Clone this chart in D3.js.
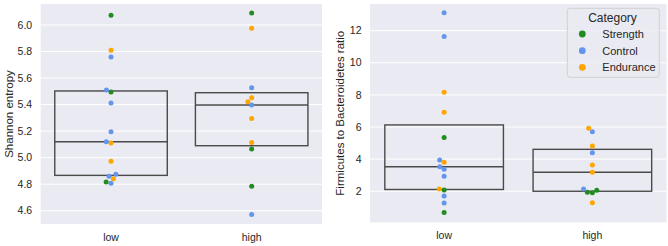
<!DOCTYPE html>
<html>
<head>
<meta charset="utf-8">
<script src="https://cdn.jsdelivr.net/npm/d3@7"></script>
<style>
  body { margin: 0; background: #fff; }
  svg { display: block; font-family: "Liberation Sans", Arial, sans-serif; }
</style>
</head>
<body>
<svg id="chart" width="668" height="246"></svg>
<script>
const groups = ['low', 'high'];
const categories = ['Strength', 'Control', 'Endurance'];
const colors = ['#228b22', '#6495ed', '#ffa500'];

// Shannon entropy
const shannonLow = [6.073, 5.809, 5.759, 5.51, 5.495, 5.412, 5.195, 5.12, 5.11, 4.972, 4.874, 4.859, 4.841, 4.816, 4.808];
const shannonLowCat = ['Strength', 'Endurance', 'Control', 'Control', 'Strength', 'Control', 'Control', 'Control', 'Endurance', 'Endurance', 'Control', 'Control', 'Endurance', 'Strength', 'Control'];
const shannonHigh = [6.09, 5.975, 5.527, 5.452, 5.422, 5.397, 5.296, 5.115, 5.065, 4.784, 4.572];
const shannonHighCat = ['Strength', 'Endurance', 'Control', 'Endurance', 'Endurance', 'Control', 'Endurance', 'Endurance', 'Strength', 'Strength', 'Control'];

// Firmicutes / Bacteroidetes ratio
const fbLow = [13.12, 11.63, 8.16, 6.92, 5.34, 3.95, 3.81, 3.53, 3.37, 2.93, 2.14, 2.08, 1.71, 1.27, 0.67];
const fbLowCat = ['Control', 'Control', 'Endurance', 'Endurance', 'Strength', 'Control', 'Endurance', 'Control', 'Control', 'Control', 'Endurance', 'Strength', 'Control', 'Control', 'Strength'];
const fbHigh = [5.92, 5.71, 4.82, 4.40, 3.64, 3.18, 2.14, 2.06, 1.94, 1.91, 1.29];
const fbHighCat = ['Endurance', 'Control', 'Endurance', 'Control', 'Endurance', 'Endurance', 'Control', 'Strength', 'Strength', 'Strength', 'Endurance'];

const shannonTicks = [4.6, 4.8, 5.0, 5.2, 5.4, 5.6, 5.8, 6.0];
const fbTicks = [2, 4, 6, 8, 10, 12];

const svg = d3.select('#chart');
const color = d3.scaleOrdinal().domain(categories).range(colors);
const textColor = '#262626';

function drawPanel(opts) {
  const {left, right, top, bottom, domain, ticks, fmt, label, labelX, sets} = opts;
  const g = svg.append('g');

  const x = d3.scaleBand().domain(groups).range([left, right]).padding(0);
  const y = d3.scaleLinear().domain(domain).range([bottom, top]);

  g.append('rect')
    .attr('x', left).attr('y', top)
    .attr('width', right - left).attr('height', bottom - top)
    .attr('fill', '#eaeaf2');

  g.selectAll('.grid')
    .data(ticks).join('line')
    .attr('x1', left).attr('x2', right)
    .attr('y1', d => y(d)).attr('y2', d => y(d))
    .attr('stroke', '#fff').attr('stroke-width', 1);

  g.selectAll('.ytick')
    .data(ticks).join('text')
    .attr('x', left - 8.5).attr('y', d => y(d))
    .attr('dy', '0.35em')
    .attr('text-anchor', 'end')
    .attr('font-size', 10.5)
    .attr('fill', textColor)
    .text(fmt);

  g.selectAll('.xtick')
    .data(groups).join('text')
    .attr('x', d => x(d) + x.bandwidth() / 2)
    .attr('y', bottom + 16.5)
    .attr('text-anchor', 'middle')
    .attr('font-size', 10.5)
    .attr('fill', textColor)
    .text(d => d);

  g.append('text')
    .attr('transform', `translate(${labelX}, ${(top + bottom) / 2}) rotate(-90)`)
    .attr('dy', '0.35em')
    .attr('text-anchor', 'middle')
    .attr('font-size', 11.5)
    .attr('fill', textColor)
    .text(label);

  const boxW = x.bandwidth() * 0.8;
  sets.forEach((s, i) => {
    const sorted = s.values.slice().sort(d3.ascending);
    const q1 = d3.quantile(sorted, 0.25);
    const med = d3.quantile(sorted, 0.5);
    const q3 = d3.quantile(sorted, 0.75);
    const cx = x(groups[i]) + x.bandwidth() / 2;
    g.append('rect')
      .attr('x', cx - boxW / 2).attr('y', y(q3))
      .attr('width', boxW).attr('height', y(q1) - y(q3))
      .attr('fill', 'none')
      .attr('stroke', '#4a4a4a').attr('stroke-width', 1.4);
    g.append('line')
      .attr('x1', cx - boxW / 2).attr('x2', cx + boxW / 2)
      .attr('y1', y(med)).attr('y2', y(med))
      .attr('stroke', '#4a4a4a').attr('stroke-width', 1.4);

    // simple swarm layout
    const pts = s.values.map((v, k) => ({v, c: s.cats[k], py: y(v)}))
      .sort((a, b) => a.v - b.v);
    const dia = 5;
    const placed = [];
    pts.forEach(p => {
      const near = placed.filter(q => Math.abs(q.py - p.py) < dia);
      let cands = [0];
      near.forEach(q => {
        const dx = Math.sqrt(dia * dia - (q.py - p.py) ** 2);
        cands.push(q.dx - dx, q.dx + dx);
      });
      cands = cands.filter(c => near.every(q => Math.hypot(q.dx - c, q.py - p.py) >= dia - 1e-6));
      cands.sort((a, b) => Math.abs(a) - Math.abs(b) || a - b);
      p.dx = cands[0];
      placed.push(p);
    });

    g.selectAll(null)
      .data(pts).join('circle')
      .attr('cx', d => cx + d.dx)
      .attr('cy', d => d.py)
      .attr('r', 2.5)
      .attr('fill', d => color(d.c));
  });
}

drawPanel({
  left: 40.7, right: 322, top: 4, bottom: 224,
  domain: [4.5, 6.158], ticks: shannonTicks, fmt: d => d.toFixed(1),
  label: 'Shannon entropy', labelX: 9,
  sets: [{values: shannonLow, cats: shannonLowCat}, {values: shannonHigh, cats: shannonHighCat}]
});

drawPanel({
  left: 370, right: 666.5, top: 4, bottom: 222.4,
  domain: [0.06, 13.66], ticks: fbTicks, fmt: d => d,
  label: 'Firmicutes to Bacteroidetes ratio', labelX: 340,
  sets: [{values: fbLow, cats: fbLowCat}, {values: fbHigh, cats: fbHighCat}]
});

// legend
const legend = svg.append('g');
legend.append('rect')
  .attr('x', 567.3).attr('y', 8.3)
  .attr('width', 92).attr('height', 69)
  .attr('rx', 3)
  .attr('fill', '#eaeaf2').attr('fill-opacity', 0.8)
  .attr('stroke', '#d0d0d0').attr('stroke-width', 1);
legend.append('text')
  .attr('x', 612.5).attr('y', 17.5).attr('dy', '0.35em')
  .attr('text-anchor', 'middle')
  .attr('font-size', 12)
  .attr('fill', textColor)
  .text('Category');
const ly = d3.scalePoint().domain(categories).range([34, 67.3]);
legend.selectAll('circle')
  .data(categories).join('circle')
  .attr('cx', 582.3).attr('cy', d => ly(d))
  .attr('r', 3.4)
  .attr('fill', d => color(d));
legend.selectAll('.lt')
  .data(categories).join('text')
  .attr('x', 602.3).attr('y', d => ly(d)).attr('dy', '0.35em')
  .attr('font-size', 11)
  .attr('fill', textColor)
  .text(d => d);
</script>
</body>
</html>
